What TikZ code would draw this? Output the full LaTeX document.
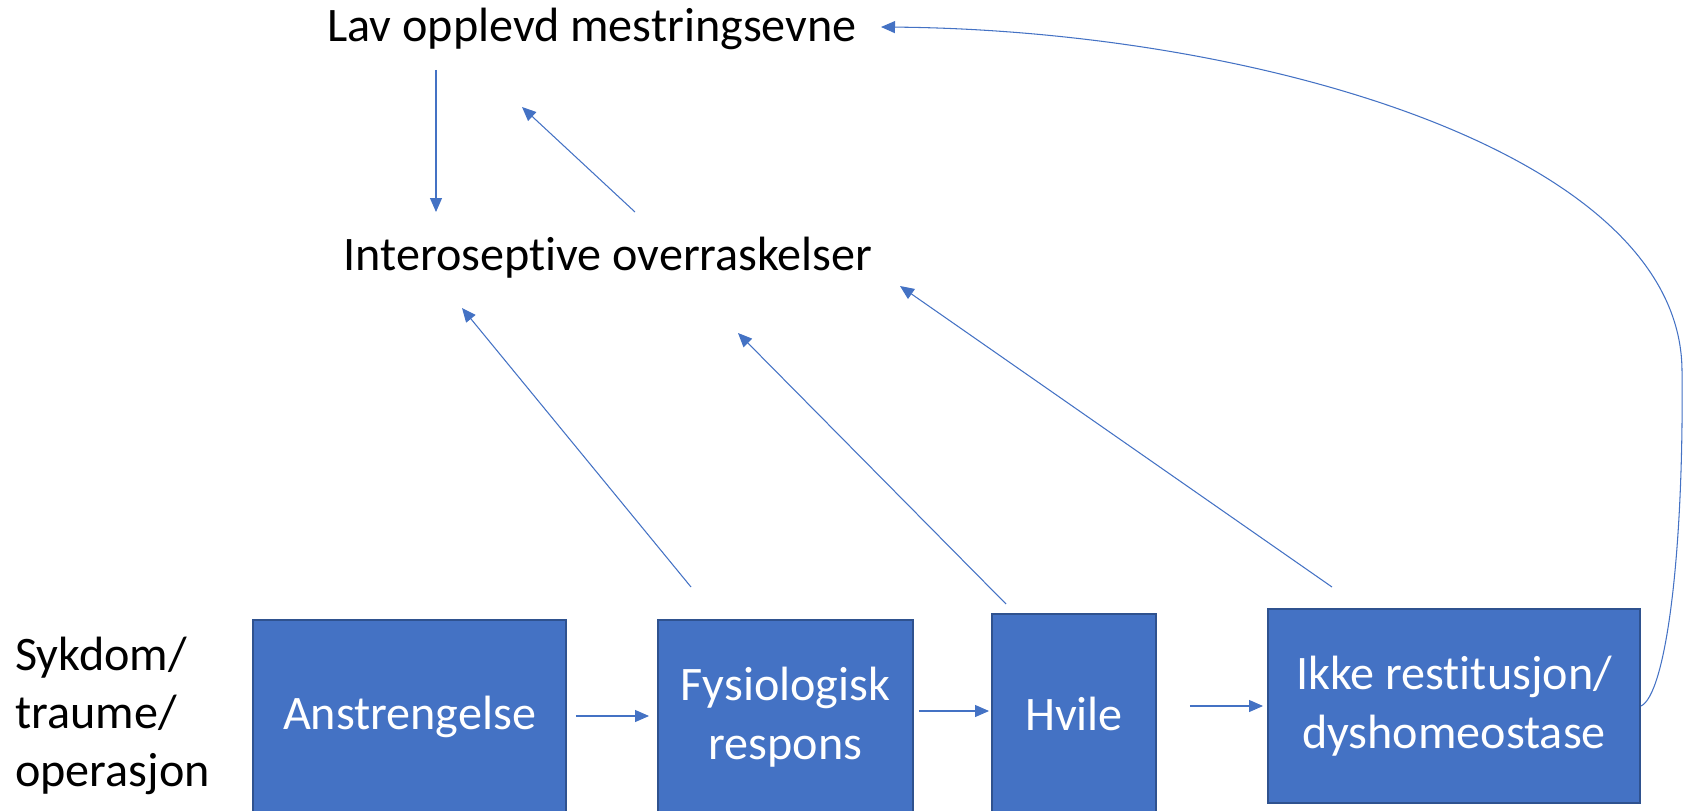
\documentclass[tikz,border=0pt]{standalone}
\usepackage{fontspec}
\setmainfont{Carlito}[Ligatures=NoCommon]
\usepackage{tikz}
\usetikzlibrary{shapes,arrows,positioning,calc,arrows.meta}
\definecolor{officeblue}{HTML}{4472C4}
\definecolor{officedark}{HTML}{2F528F}

\begin{document}
\begin{tikzpicture}[x=0.02cm, y=-0.02cm,
        big font/.style={font=\fontsize{27.4}{33.2}\selectfont},
        stage box/.style={rectangle, draw=officedark, line width=1.1pt, fill=officeblue, text=white, big font, align=center, inner sep=0pt},
        plain text/.style={big font, inner sep=0pt, align=left},
        line/.style={draw=officeblue, line width=0.6pt, -{Triangle[length=0.28cm,width=0.24cm]}}]
        \useasboundingbox (0,0) rectangle (1684,811);

        \node [plain text] (lav) at (592,29) {Lav opplevd mestringsevne};
        \node [plain text] (inter) at (608,258) {Interoseptive overraskelser};
        \node [plain text, anchor=west] (sykdom) at (15,716) {Sykdom/\\traume/\\operasjon};

        \node [stage box, minimum width=313*0.02cm, minimum height=194*0.02cm] (anst) at (409.5,717) {Anstrengelse};
        \node [stage box, minimum width=255*0.02cm, minimum height=194*0.02cm] (fys) at (785.5,717) {Fysiologisk\\respons};
        \node [stage box, minimum width=164*0.02cm, minimum height=200*0.02cm] (hvile) at (1074,714) {Hvile};
        \node [stage box, minimum width=372*0.02cm, minimum height=194*0.02cm] (ikke) at (1454,706) {Ikke restitusjon/\\dyshomeostase};

        \path [line] ($(lav.center)+(-156,41)$) -- ($(inter.center)+(-172,-46)$);
        \path [line] ($(inter.center)+(27,-46)$) -- ($(lav.center)+(-70,78)$);
        \path [line] ($(fys.center)+(-94.5,-130)$) -- ($(inter.center)+(-146,50)$);
        \path [line] ($(hvile.center)+(-68,-110)$) -- ($(inter.center)+(130,75)$);
        \path [line] ($(ikke.center)+(-122,-119)$) -- ($(inter.center)+(292,28)$);

        \path [line] ($(anst.east)+(9,-1)$) -- ($(fys.west)+(-8,-1)$);
        \path [line] ($(fys.east)+(5,-6)$) -- ($(hvile.west)+(-2,-3)$);
        \path [line] ($(hvile.east)+(33,-8)$) -- ($(ikke.west)+(-4,0)$);

        \path [line] (ikke.east) .. controls (1665,695) and (1684,560) .. (1682,370)
            .. controls (1680,150) and (1250,30) .. ($(lav.center)+(289,-2)$);
\end{tikzpicture}
\end{document}
